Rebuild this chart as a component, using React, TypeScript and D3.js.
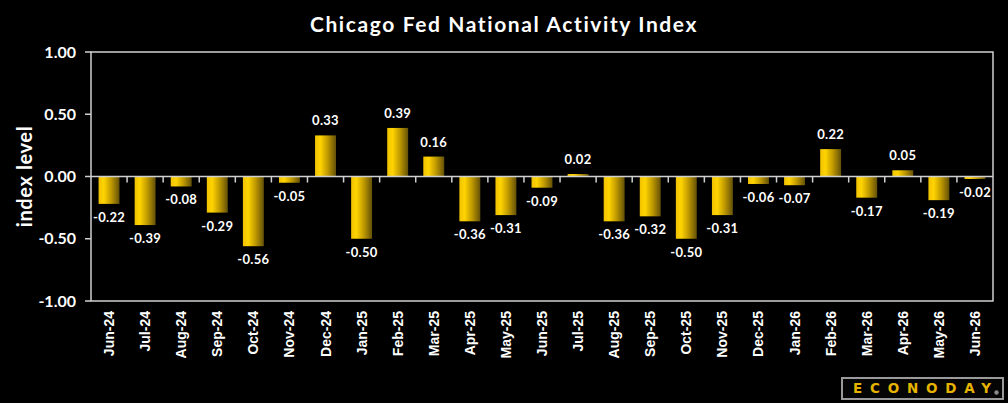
import React from 'react';
import * as d3 from 'd3';

const months = [
  'Jun-24', 'Jul-24', 'Aug-24', 'Sep-24', 'Oct-24', 'Nov-24', 'Dec-24',
  'Jan-25', 'Feb-25', 'Mar-25', 'Apr-25', 'May-25', 'Jun-25', 'Jul-25',
  'Aug-25', 'Sep-25', 'Oct-25', 'Nov-25', 'Dec-25', 'Jan-26', 'Feb-26',
  'Mar-26', 'Apr-26', 'May-26', 'Jun-26',
];
const indexValues = [
  -0.22, -0.39, -0.08, -0.29, -0.56, -0.05, 0.33,
  -0.5, 0.39, 0.16, -0.36, -0.31, -0.09, 0.02,
  -0.36, -0.32, -0.5, -0.31, -0.06, -0.07, 0.22,
  -0.17, 0.05, -0.19, -0.02,
];
const yTicks = [1, 0.5, 0, -0.5, -1];

const W = 1008;
const H = 403;
const margin = { top: 52, right: 15, bottom: 102, left: 91 };
const numFont = 'Lato, "Open Sans", sans-serif';

const App: React.FC = () => {
  const innerW = W - margin.left - margin.right;
  const innerH = H - margin.top - margin.bottom;

  const x = d3.scaleBand<string>().domain(months).range([0, innerW]).paddingInner(0.42).paddingOuter(0.21);
  const y = d3.scaleLinear().domain([-1, 1]).range([innerH, 0]);
  const step = x.step();
  const y0 = y(0);

  return (
    <svg
      width={W}
      height={H}
      style={{ position: 'absolute', left: 0, top: 0, display: 'block', background: '#000' }}
    >
      <defs>
        <linearGradient id="barGrad" x1="0" x2="1" y1="0" y2="0">
          <stop offset="0" stopColor="#f0c200" />
          <stop offset="0.25" stopColor="#ffd400" />
          <stop offset="0.6" stopColor="#c09a00" />
          <stop offset="1" stopColor="#635008" />
        </linearGradient>
      </defs>
      <rect x={0} y={0} width={W} height={H} fill="#000" />

      {/* title */}
      <text
        x={W / 2}
        y={32}
        textAnchor="middle"
        fill="#fff"
        fontFamily={numFont}
        fontWeight="bold"
        fontSize={21}
        letterSpacing={1.6}
      >
        Chicago Fed National Activity Index
      </text>

      <g transform={`translate(${margin.left},${margin.top})`}>
        {/* frame */}
        <rect x={0} y={0} width={innerW} height={innerH} fill="none" stroke="#d0d0d0" strokeWidth={1.5} />

        {/* y axis ticks */}
        {yTicks.map(t => (
          <g key={t} transform={`translate(0,${y(t)})`}>
            <line x1={-6} x2={0} stroke="#d0d0d0" strokeWidth={1.5} />
            <text
              x={-15}
              dy="0.35em"
              textAnchor="end"
              fill="#fff"
              fontFamily={numFont}
              fontWeight="bold"
              fontSize={16}
            >
              {t.toFixed(2)}
            </text>
          </g>
        ))}

        {/* bars */}
        {indexValues.map((v, i) => {
          const bx = x(months[i]) as number;
          const top = Math.min(y(v), y0);
          const h = Math.abs(y(v) - y0);
          const cx = bx + x.bandwidth() / 2;
          return (
            <g key={months[i]}>
              <rect x={bx} y={top} width={x.bandwidth()} height={h} fill="url(#barGrad)" />
              <text
                x={cx}
                y={v >= 0 ? y(v) - 10 : y(v) + 18}
                textAnchor="middle"
                fill="#fff"
                fontFamily={numFont}
                fontWeight="bold"
                fontSize={13}
                letterSpacing={0.3}
              >
                {v.toFixed(2)}
              </text>
            </g>
          );
        })}

        {/* zero line with ticks */}
        <line x1={0} x2={innerW} y1={y0} y2={y0} stroke="#d0d0d0" strokeWidth={1.5} />
        {months.slice(1).map((m, i) => {
          const tx = (i + 1) * step;
          return <line key={m} x1={tx} x2={tx} y1={y0} y2={y0 + 6} stroke="#d0d0d0" strokeWidth={1.5} />;
        })}

        {/* x labels */}
        {months.map(m => (
          <text
            key={m}
            transform={`translate(${(x(m) as number) + x.bandwidth() / 2 + 5},${innerH + 10}) rotate(-90)`}
            textAnchor="end"
            fill="#fff"
            fontFamily='"Liberation Sans", Arial, sans-serif'
            fontWeight="bold"
            fontSize={14}
          >
            {m}
          </text>
        ))}
      </g>

      {/* y axis title */}
      <text
        transform={`translate(32,${margin.top + innerH / 2}) rotate(-90)`}
        textAnchor="middle"
        fill="#fff"
        fontFamily={numFont}
        fontWeight="bold"
        fontSize={20}
        letterSpacing={0.6}
      >
        index level
      </text>

      {/* logo */}
      <g>
        <rect x={842} y={378} width={161} height={21} fill="#050505" stroke="#9a9a9a" strokeWidth={2} />
        <text
          x={853}
          y={393}
          fill="#e6b400"
          fontFamily='"DejaVu Sans", sans-serif'
          fontWeight="bold"
          fontSize={13.5}
          textLength={138}
          lengthAdjust="spacing"
        >
          ECONODAY
        </text>
        <circle cx={996.5} cy={392.5} r={2.2} fill="#8a8a8a" />
      </g>
    </svg>
  );
};

export default App;
